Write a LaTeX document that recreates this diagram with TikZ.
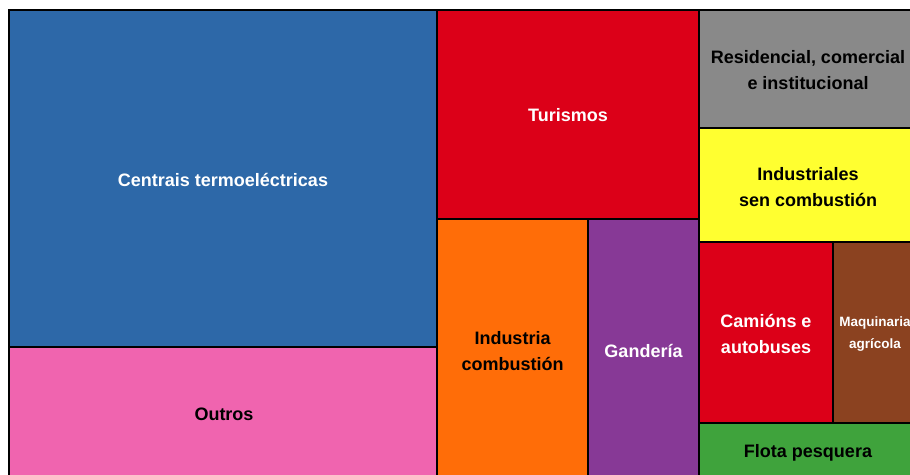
\documentclass[tikz,border=0pt]{standalone}
\usepackage{fontspec}
\setmainfont{Liberation Sans}
\definecolor{cblue}{HTML}{2D68A8}
\definecolor{cred}{HTML}{DC0018}
\definecolor{cgray}{HTML}{898989}
\definecolor{cyellow}{HTML}{FFFF30}
\definecolor{corange}{HTML}{FF6D08}
\definecolor{cpurple}{HTML}{873996}
\definecolor{cpink}{HTML}{F064AF}
\definecolor{cbrown}{HTML}{8B4220}
\definecolor{cgreen}{HTML}{3FA33C}
\begin{document}
\begin{tikzpicture}[x=1pt,y=-1pt,
  cell/.style={draw=black, line width=1.6pt},
  lbl/.style={font=\bfseries\fontsize{18}{26}\selectfont, align=center, inner sep=0pt},
  small/.style={font=\bfseries\fontsize{13.5}{22}\selectfont, align=center, inner sep=0pt}]
\useasboundingbox (0,0) rectangle (910,474);
\fill[white] (0,0) rectangle (910,474);
\clip (0,0) rectangle (910,474);
\path[cell, fill=cblue]   (9,10)   rectangle (437,347);
\path[cell, fill=cpink]   (9,347)  rectangle (437,485);
\path[cell, fill=cred]    (437,10) rectangle (699,219);
\path[cell, fill=corange] (437,219) rectangle (588,485);
\path[cell, fill=cpurple] (588,219) rectangle (699,485);
\path[cell, fill=cgray]   (699,10) rectangle (920,128);
\path[cell, fill=cyellow] (699,128) rectangle (920,242);
\path[cell, fill=cred]    (699,242) rectangle (833,423);
\path[cell, fill=cbrown]  (833,242) rectangle (920,423);
\path[cell, fill=cgreen]  (699,423) rectangle (920,485);
\node[lbl, text=white] (centrais) at (223,180) {Centrais termoeléctricas};
\node[lbl, text=black] (outros) at (224,414) {Outros};
\node[lbl, text=white] (turismos) at (568,115) {Turismos};
\node[lbl, text=black] (industria) at (512.5,351) {Industria\\combustión};
\node[lbl, text=white] (ganderia) at (643.5,351) {Gandería};
\node[lbl, text=black] (residencial) at (808,70) {Residencial, comercial\\e institucional};
\node[lbl, text=black] (industriales) at (808,187) {Industriales\\sen combustión};
\node[lbl, text=white] (camions) at (766,334) {Camións e\\autobuses};
\node[small, text=white] (maquinaria) at (875,334) {Maquinaria\\agrícola};
\node[lbl, text=black] (flota) at (808,453) {Flota pesquera};
\end{tikzpicture}
\end{document}
